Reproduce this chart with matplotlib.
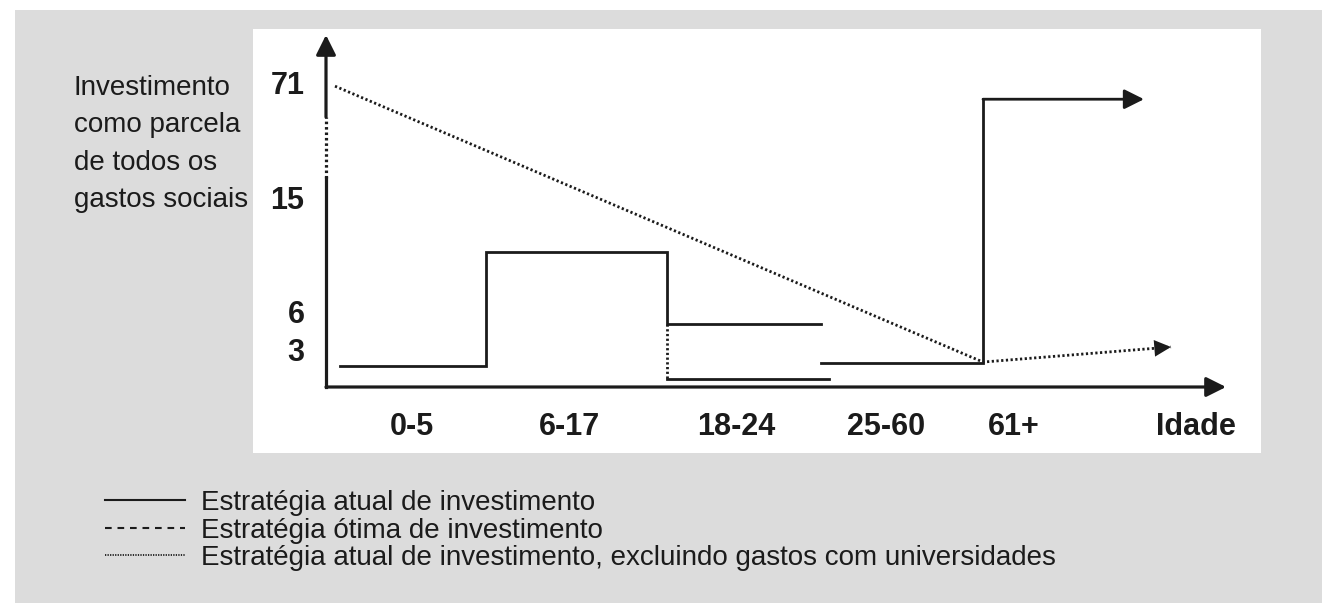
import numpy as np
import matplotlib
matplotlib.use('Agg')
import matplotlib.pyplot as plt
from matplotlib.lines import Line2D
from matplotlib.patches import Rectangle

# ---------------- data (schematic levels) ----------------
age_groups = ['0-5', '6-17', '18-24', '25-60', '61+']
age_edges = [0.14, 1.60, 3.41, 4.95, 6.57, 8.18]        # group boundaries on the age axis
current_levels = [1.66, 10.66, 4.97, 1.90, 63.0]         # Estratégia atual de investimento
excl_univ_18_24 = 0.63                                     # 18-24 excluding university spending
excl_univ_18_24_end = 5.03
excl_trend_x = [0.09, 6.57, 8.45]                          # dotted trend line
excl_trend_y = [69.4, 1.97, 3.16]
y_ticks = [3, 6, 15, 71]
y_break = [24.4, 54.3]                                     # dotted part of the value axis
x_label_pos = [0.86, 2.44, 4.10, 5.60, 6.88]
x_axis_name = 'Idade'
x_axis_name_pos = 8.70
x_max = 9.0
y_max = 94.5
ylabel_lines = ['Investimento', 'como parcela', 'de todos os', 'gastos sociais']
legend_labels = ['Estratégia atual de investimento',
                 'Estratégia ótima de investimento',
                 'Estratégia atual de investimento, excluindo gastos com universidades']

# ---------------- styling ----------------
W, H = 1322, 603
INK = '#1b1b1b'
GREY = '#dcdcdc'
TEXTFONT = ['Liberation Sans', 'DejaVu Sans']
TICKFONT = ['Liberation Sans', 'DejaVu Sans']
DOT = (0, (0.8, 0.9))

def fx(px):
    return px / W

def fy(py):
    return 1 - py / H

# broken value axis: linear below 15, compressed above
BREAK, K = 15.0, 0.161

def fwd(v):
    v = np.asarray(v, dtype=float)
    return np.where(v <= BREAK, v, BREAK + (v - BREAK) * K)

def inv(t):
    t = np.asarray(t, dtype=float)
    return np.where(t <= BREAK, t, BREAK + (t - BREAK) / K)

fig = plt.figure(figsize=(W / 100, H / 100), dpi=100)
fig.patch.set_facecolor('white')
fig.add_artist(Rectangle((fx(15), 0), 1 - fx(15), fy(10), transform=fig.transFigure,
                         facecolor=GREY, edgecolor='none', zorder=-10))
fig.add_artist(Rectangle((fx(253), fy(453)), fx(1261) - fx(253), fy(29) - fy(453),
                         transform=fig.transFigure, facecolor='white', edgecolor='none', zorder=-9))

ax = fig.add_axes([fx(326), fy(387), fx(1226) - fx(326), fy(35) - fy(387)])
ax.patch.set_alpha(0)
ax.set_yscale('function', functions=(fwd, inv))
ax.set_xlim(0, x_max)
ax.set_ylim(0, y_max)
for s in ax.spines.values():
    s.set_visible(False)

LW = 2.0
ALW = 2.3

def arrow(x0, y0, x1, y1, lw=LW, shaft=True):
    ax.annotate('', xy=(x1, y1), xytext=(x0, y0), annotation_clip=False,
                arrowprops=dict(arrowstyle='-|>', mutation_scale=30,
                                lw=lw if shaft else 0, color=INK,
                                shrinkA=0, shrinkB=0))

# axes
arrow(0, 0, x_max, 0, lw=ALW)
ax.plot([0, 0], [0, y_break[0]], color=INK, lw=ALW, clip_on=False, solid_capstyle='projecting')
ax.plot([0, 0], y_break, color=INK, lw=ALW, ls=DOT, clip_on=False)
arrow(0, y_break[1], 0, y_max, lw=ALW)

# current strategy (solid)
e, c = age_edges, current_levels
ax.plot([e[0], e[1], e[1], e[2], e[2], e[3]], [c[0], c[0], c[1], c[1], c[2], c[2]],
        color=INK, lw=LW, clip_on=False, solid_joinstyle='miter')
ax.plot([e[3], e[4], e[4]], [c[3], c[3], c[4]], color=INK, lw=LW, clip_on=False,
        solid_joinstyle='miter', solid_capstyle='projecting')
arrow(e[4], c[4], e[5], c[4])

# excluding universities (dotted link + solid lower 18-24 line)
ax.plot([e[2], e[2]], [c[2], excl_univ_18_24], color=INK, lw=LW, ls=DOT, clip_on=False)
ax.plot([e[2], excl_univ_18_24_end], [excl_univ_18_24] * 2, color=INK, lw=LW, clip_on=False)

# dotted trend line with arrow head
ax.plot(excl_trend_x, excl_trend_y, color=INK, lw=LW, ls=DOT, clip_on=False)
arrow(excl_trend_x[1], excl_trend_y[1], excl_trend_x[2], excl_trend_y[2], shaft=False)

# ticks
ax.set_xticks(x_label_pos + [x_axis_name_pos], age_groups + [x_axis_name])
ax.set_yticks(y_ticks, [str(v) for v in y_ticks])
ax.minorticks_off()
ax.tick_params(axis='x', length=0, pad=18.0, labelsize=22, labelcolor=INK)
ax.tick_params(axis='y', length=0, pad=15.5, labelsize=22, labelcolor=INK)
for lab in ax.get_xticklabels() + ax.get_yticklabels():
    lab.set_family(TICKFONT)
    lab.set_fontweight('bold')

# y axis title (four lines)
for i, line in enumerate(ylabel_lines):
    fig.text(fx(74), fy(95 + 37.3 * i), line, family=TEXTFONT, fontsize=20,
             color=INK, ha='left', va='baseline')

# legend
leg_styles = [dict(ls='-', lw=1.5), dict(ls=(0, (3.2, 2.8)), lw=1.5), dict(ls=(0, (0.7, 0.7)), lw=1.3)]
for i, (lab, st) in enumerate(zip(legend_labels, leg_styles)):
    yline = 500 + 27.5 * i
    fig.add_artist(Line2D([fx(105), fx(185)], [fy(yline)] * 2, transform=fig.transFigure,
                          color=INK, **st))
    fig.text(fx(201), fy(yline + 10), lab, family=TEXTFONT, fontsize=20,
             color=INK, ha='left', va='baseline')

fig.savefig('out.png', dpi=100)
